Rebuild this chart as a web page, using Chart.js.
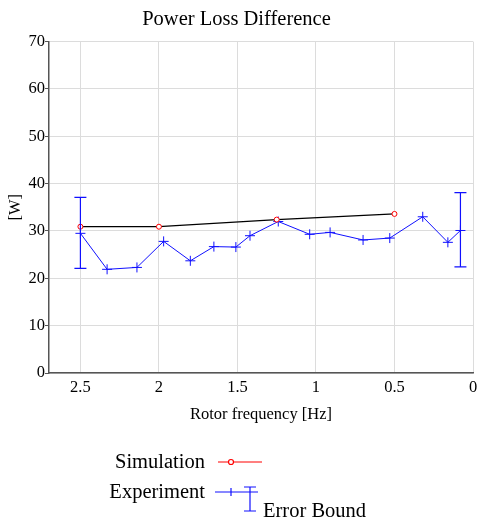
<!DOCTYPE html>
<html>
<head>
<meta charset="utf-8">
<script src="https://cdn.jsdelivr.net/npm/chart.js@4"></script>
<style>
  html, body { margin: 0; padding: 0; background: #fff; }
  #wrap { width: 481px; height: 524px; }
</style>
</head>
<body>
<div id="wrap"><canvas id="chart"></canvas></div>
<script>
// ---- Data ----

const simFreq  = [2.5, 2.0, 1.25, 0.5]
const simLoss  = [30.9, 30.9, 32.4, 33.6]

const expFreq  = [2.5, 2.33, 2.14, 1.97, 1.80, 1.65, 1.51, 1.42, 1.24, 1.04, 0.91, 0.70, 0.53, 0.32, 0.16, 0.08]
const expLoss  = [29.5, 21.9, 22.3, 27.8, 23.7, 26.7, 26.6, 29.0, 32.0, 29.3, 29.7, 28.1, 28.5, 33.0, 27.6, 30.1]

const errFreq  = [2.5, 0.08]
const errLow   = [22.1, 22.4]
const errHigh  = [37.1, 38.1]

const xTicks   = [0, 0.5, 1, 1.5, 2, 2.5]

const FONT = "'Liberation Serif', 'Times New Roman', serif"
const BLUE = '#1010ff'
const RED  = '#ff0000'

const toPts = (xs, ys) => xs.map((x, i) => ({ x, y: ys[i] }))

// ---- Error bars, drawn through the chart scales ----

const errorBars = {
  id: 'errorBars',
  afterDatasetsDraw(chart) {
    const { ctx, scales: { x, y } } = chart
    ctx.save()
    ctx.strokeStyle = BLUE
    ctx.lineWidth = 1.2
    errFreq.forEach((f, i) => {
      const px = x.getPixelForValue(f)
      const top = y.getPixelForValue(errHigh[i])
      const bot = y.getPixelForValue(errLow[i])
      ctx.beginPath()
      ctx.moveTo(px, top); ctx.lineTo(px, bot)
      ctx.moveTo(px - 6, top); ctx.lineTo(px + 6, top)
      ctx.moveTo(px - 6, bot); ctx.lineTo(px + 6, bot)
      ctx.stroke()
    })
    ctx.restore()
  }
}

// ---- Legend below the plot ----

const bottomLegend = {
  id: 'bottomLegend',
  afterDraw(chart) {
    const ctx = chart.ctx
    ctx.save()
    ctx.font = '20.5px ' + FONT
    ctx.fillStyle = '#000'
    ctx.textBaseline = 'middle'
    ctx.textAlign = 'right'
    ctx.fillText('Simulation', 205, 463)
    ctx.fillText('Experiment', 205, 493)
    ctx.textAlign = 'left'
    ctx.fillText('Error Bound', 263, 512)

    // simulation sample
    ctx.strokeStyle = RED
    ctx.lineWidth = 1.2
    ctx.beginPath(); ctx.moveTo(218, 462); ctx.lineTo(262, 462); ctx.stroke()
    ctx.fillStyle = '#fff'
    ctx.beginPath(); ctx.arc(231, 462, 2.5, 0, Math.PI * 2); ctx.fill(); ctx.stroke()

    // experiment sample
    ctx.strokeStyle = BLUE
    ctx.beginPath(); ctx.moveTo(215, 492); ctx.lineTo(258, 492); ctx.stroke()
    ctx.beginPath(); ctx.moveTo(231, 488); ctx.lineTo(231, 496); ctx.stroke()

    // error bound sample
    ctx.beginPath()
    ctx.moveTo(250, 487); ctx.lineTo(250, 511)
    ctx.moveTo(244, 487); ctx.lineTo(256, 487)
    ctx.moveTo(244, 511); ctx.lineTo(256, 511)
    ctx.stroke()
    ctx.restore()
  }
}

new Chart(document.getElementById('chart'), {
  type: 'scatter',
  data: {
    datasets: [
      {
        label: 'Simulation',
        data: toPts(simFreq, simLoss),
        showLine: true,
        borderColor: '#000',
        borderWidth: 1.2,
        pointStyle: 'circle',
        pointRadius: 2.5,
        pointBorderColor: RED,
        pointBackgroundColor: '#fff',
        pointBorderWidth: 1
      },
      {
        label: 'Experiment',
        data: toPts(expFreq, expLoss),
        showLine: true,
        borderColor: BLUE,
        borderWidth: 1,
        pointStyle: 'cross',
        pointRadius: 5,
        pointBorderColor: BLUE,
        pointBorderWidth: 1
      }
    ]
  },
  options: {
    responsive: true,
    maintainAspectRatio: false,
    animation: false,
    layout: { padding: { left: 0, right: 8, top: 0, bottom: 99 } },
    plugins: {
      legend: { display: false },
      tooltip: { enabled: false },
      title: {
        display: true,
        text: 'Power Loss Difference',
        color: '#000',
        font: { family: FONT, size: 20.5, weight: 'normal' },
        padding: { top: 7, bottom: 10 }
      }
    },
    scales: {
      x: {
        type: 'linear',
        reverse: true,
        min: 0,
        max: 2.7,
        afterBuildTicks: s => { s.ticks = xTicks.map(v => ({ value: v })) },
        afterFit: s => { s.height = 52 },
        grid: { color: '#dcdcdc', drawTicks: false },
        border: { color: '#555', width: 1.5 },
        ticks: { color: '#000', font: { family: FONT, size: 16.5 }, padding: 5, callback: v => String(v) },
        title: {
          display: true,
          text: 'Rotor frequency [Hz]',
          color: '#000',
          font: { family: FONT, size: 16.5 },
          padding: 0
        }
      },
      y: {
        min: 0,
        max: 70,
        afterFit: s => { s.width = 49 },
        grid: { color: '#dcdcdc', tickColor: '#555', tickLength: 4 },
        border: { color: '#555', width: 1.5 },
        ticks: { stepSize: 10, color: '#000', font: { family: FONT, size: 16.5 }, padding: 0 },
        title: {
          display: true,
          text: '[W]',
          color: '#000',
          font: { family: FONT, size: 16.5 },
          padding: 6
        }
      }
    }
  },
  plugins: [errorBars, bottomLegend]
})
</script>
</body>
</html>
